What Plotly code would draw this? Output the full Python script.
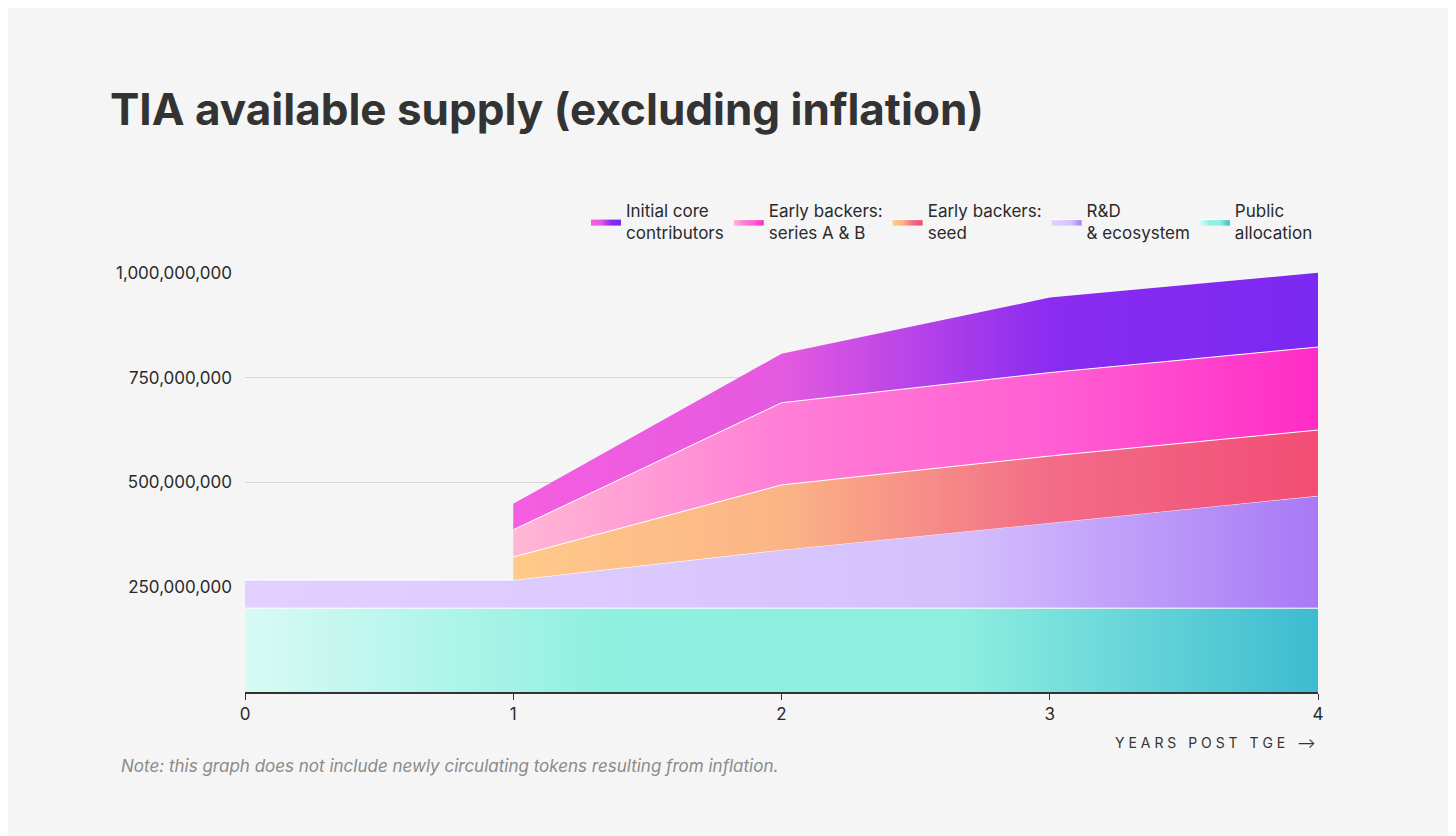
import numpy as np
import plotly.graph_objects as go

# data (millions of TIA)
years = [0, 1, 2, 3, 4]
public = [200, 200, 200, 200, 200]
rnd = [67, 67, 139, 203, 268]
later_years = [1, 2, 3, 4]
seed = [55, 155, 160, 157]
series_ab = [65, 196, 199, 198]
core = [62, 117, 179, 177]
y_ticks = [250e6, 500e6, 750e6, 1000e6]
y_ticklabels = ["250,000,000", "500,000,000", "750,000,000", "1,000,000,000"]

M = 1e6
pub_c = np.array(public) * M
rnd_c = pub_c + np.array(rnd) * M
base = rnd_c[1:]
seed_c = base + np.array(seed) * M
ser_c = seed_c + np.array(series_ab) * M
core_c = ser_c + np.array(core) * M

def grad(cols):
    n = len(cols) - 1
    return dict(type="horizontal", colorscale=[[i / n, c] for i, c in enumerate(cols)])

fig = go.Figure()
fig.add_trace(go.Scatter(x=years, y=pub_c, mode="lines", line=dict(color="white", width=1),
                         fill="tozeroy", fillgradient=grad(["#d8faf4", "#8ff0e0", "#8eeee0", "#3dbbd0"]),
                         name="Public<br>allocation"))
fig.add_trace(go.Scatter(x=years, y=rnd_c, mode="lines", line=dict(color="white", width=1),
                         fill="tonexty", fillgradient=grad(["#e2d0ff", "#dccaff", "#d4bffc", "#a879f5"]),
                         name="R&D<br>& ecosystem"))
fig.add_trace(go.Scatter(x=later_years, y=base, mode="lines", line=dict(color="rgba(0,0,0,0)", width=0),
                         showlegend=False, hoverinfo="skip"))
fig.add_trace(go.Scatter(x=later_years, y=seed_c, mode="lines", line=dict(color="white", width=1),
                         fill="tonexty", fillgradient=grad(["#ffca8a", "#fbb486", "#f26c88", "#f24d74"]),
                         name="Early backers:<br>seed"))
fig.add_trace(go.Scatter(x=later_years, y=ser_c, mode="lines", line=dict(color="white", width=1),
                         fill="tonexty", fillgradient=grad(["#ffb8d4", "#ff7ed6", "#ff5fd3", "#ff2cc6"]),
                         name="Early backers:<br>series A & B"))
fig.add_trace(go.Scatter(x=later_years, y=core_c, mode="lines", line=dict(color="white", width=0),
                         fill="tonexty", fillgradient=grad(["#f55ee0", "#e45ae0", "#8a2cf0", "#7a28f2"]),
                         name="Initial core<br>contributors"))

font = "Inter, Roboto, sans-serif"
fig.update_layout(
    width=1456, height=836,
    margin=dict(l=237, r=146, t=264, b=152),
    paper_bgcolor="#f5f5f5", plot_bgcolor="#f5f5f5",
    font=dict(family=font, size=17, color="#2a2a2a"),
    showlegend=True,
    legend=dict(orientation="h", traceorder="reversed", x=1.0, xanchor="right", y=1.05, yanchor="bottom",
                font=dict(size=17, color="#2a2a2a"), bgcolor="rgba(0,0,0,0)", itemwidth=30),
    xaxis=dict(range=[0, 4], tickvals=years, ticktext=[str(v) for v in years], showgrid=False,
               zeroline=False, showline=True, linecolor="#333", linewidth=1.5, ticks="outside",
               ticklen=6, tickcolor="#333", fixedrange=True),
    yaxis=dict(range=[0, 1.002e9], tickvals=y_ticks, ticktext=y_ticklabels, showgrid=True,
               gridcolor="#d6d6d6", zeroline=False, ticks="", ticklabelstandoff=12, fixedrange=True),
    annotations=[
        dict(text="<b>TIA available supply (excluding inflation)</b>", xref="paper", yref="paper",
             x=-0.128, y=1.389, xanchor="left", yanchor="middle", showarrow=False,
             font=dict(size=44, color="#333", family=font)),
        dict(text="Y E A R S   P O S T   T G E   ⟶", xref="paper", yref="paper", x=1.0, y=-0.12,
             xanchor="right", yanchor="middle", showarrow=False, font=dict(size=14, color="#333")),
        dict(text="<i>Note: this graph does not include newly circulating tokens resulting from inflation.</i>",
             xref="paper", yref="paper", x=-0.117, y=-0.175, xanchor="left", yanchor="middle",
             showarrow=False, font=dict(size=17, color="#8a8a8a")),
    ],
)
fig.write_html("out.html")
